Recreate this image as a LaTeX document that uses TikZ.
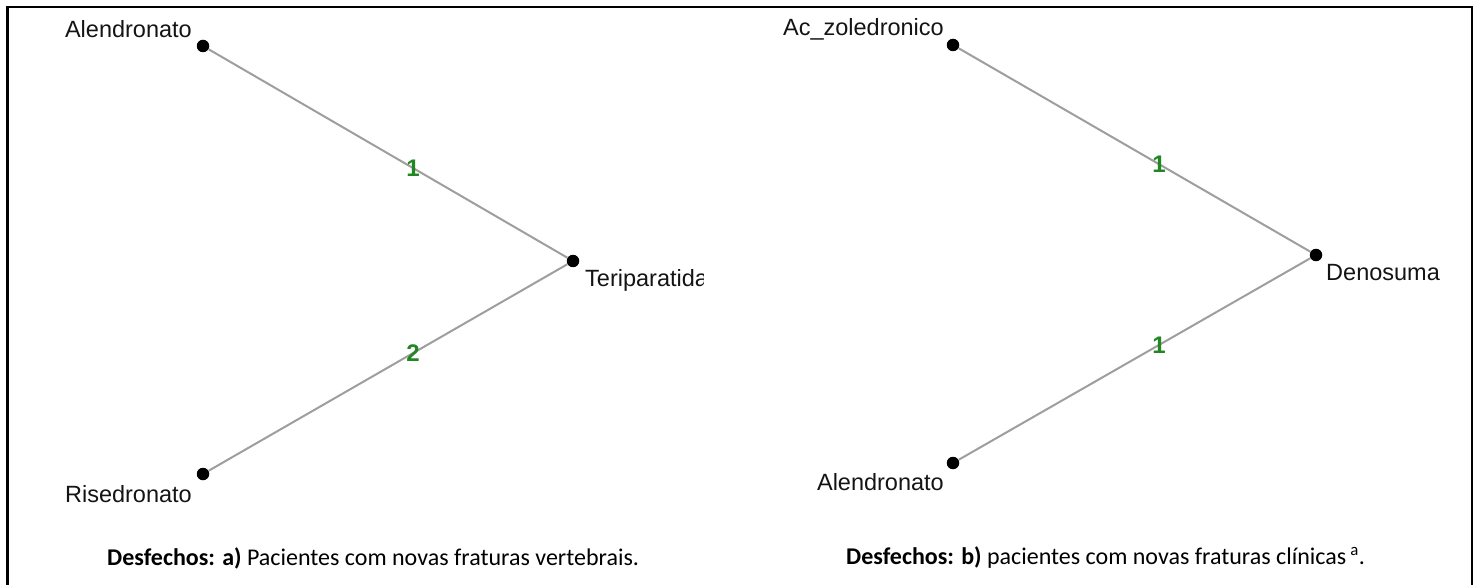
\documentclass[tikz,border=0pt]{standalone}
\usepackage{fontspec}
\setmainfont{Liberation Sans}
\newfontfamily\capfont{Carlito}
\begin{document}
\begin{tikzpicture}[x=1pt,y=-1pt,
  vertex/.style={circle,fill=black,inner sep=0pt,minimum size=12.5pt},
  link/.style={draw=black!38,line width=2pt},
  vlabel/.style={font=\fontsize{23.5}{27}\selectfont,inner sep=0pt,text=black!92},
  elabel/.style={font=\fontsize{24}{27}\bfseries\selectfont,text={rgb,255:red,34;green,135;blue,34},inner sep=0pt},
  caption/.style={font=\capfont\fontsize{24}{28}\selectfont,inner sep=0pt,anchor=west}]
\useasboundingbox (0,0) rectangle (1479,585);
% frame, open at the bottom
\draw[line width=2.6pt] (7.2,585) -- (7.2,7.2) -- (1472,7.2) -- (1472,585);

% panel a
\begin{scope}
\clip (8,8) rectangle (703,540);
\node[vertex] (alen) at (203,46) {};
\node[vertex] (teri) at (573,261) {};
\node[vertex] (rise) at (203,474) {};
\draw[link] (alen) -- (teri) node[pos=0.57,elabel] {1};
\draw[link] (rise) -- (teri) node[pos=0.57,elabel] {2};
\node[vlabel,anchor=east] at (192,29) {Alendronato};
\node[vlabel,anchor=west] at (585,280) {Teriparatida};
\node[vlabel,anchor=east] at (192,494) {Risedronato};
\end{scope}
\node[caption] (capa) at (107,558) {\textbf{Desfechos: a)} Pacientes com novas fraturas vertebrais.};

% panel b
\node[vertex] (zol) at (953,45) {};
\node[vertex] (deno) at (1316,255) {};
\node[vertex] (alenb) at (953,463) {};
\draw[link] (zol) -- (deno) node[pos=0.57,elabel] {1};
\draw[link] (alenb) -- (deno) node[pos=0.57,elabel] {1};
\node[vlabel,anchor=east] at (944,29) {Ac\_zoledronico};
\node[vlabel,anchor=west] at (1326,273) {Denosuma};
\node[vlabel,anchor=east] at (944,482) {Alendronato};
\node[caption] (capb) at (846,558) {\textbf{Desfechos: b)} pacientes com novas fraturas clínicas\,\textsuperscript{a}.};
\end{tikzpicture}
\end{document}
